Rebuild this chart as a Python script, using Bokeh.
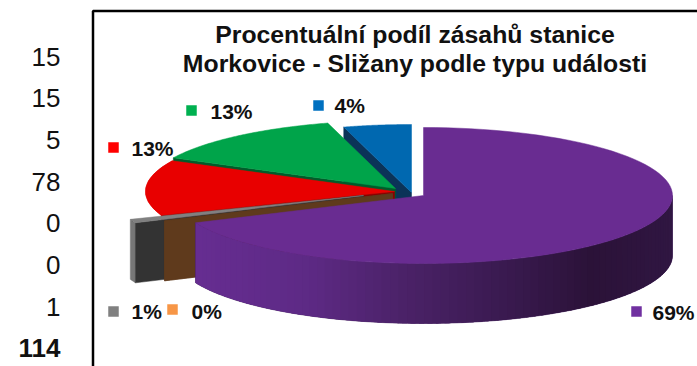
import math
from bokeh.plotting import figure
from bokeh.embed import file_html
from bokeh.resources import INLINE
from bokeh.core.properties import value as fval

# data
categories = ["a", "b", "c", "d", "e", "f", "g"]   # unnamed in the picture
values = [15, 15, 5, 78, 0, 0, 1]
total = 114
percent_labels = ["13%", "13%", "4%", "69%", None, "0%", "1%"]
title_lines = ["Procentuální podíl zásahů stanice", "Morkovice - Sližany podle typu události"]

# layout / style
W, H = 697, 366
RX, RY, DEPTH = 249, 68, 60
order = [3, 4, 5, 6, 0, 1, 2]     # clockwise from 12 o'clock
apex = {3: (423, 195), 4: (392, 193), 5: (392, 193), 6: (363, 195), 0: (394, 191), 1: (395, 188), 2: (411, 192)}
top_col = {0: "#e80000", 1: "#00a44a", 2: "#0068b0", 3: "#692c91", 4: "#f79646", 5: "#f79646", 6: "#808080"}
cut_col = {0: "#8a0000", 1: "#005c2a", 2: "#0b3358", 4: "#5f3a1c", 5: "#5f3a1c", 6: "#333333"}
wall_col = {0: "#e00000", 6: "#777777"}
marker_col = {0: "#ff0000", 1: "#00b050", 2: "#0070c0", 3: "#7030a0", 5: "#f79646", 6: "#808080"}
label_pos = {1: (191, 110, 210, 111), 0: (113, 147, 131, 148), 2: (318, 105, 334, 105),
             6: (113, 311, 131, 311), 5: (172, 309, 191, 311), 3: (636, 311, 652, 312)}
wall_stops = [(195, (0x66, 0x2d, 0x91)), (300, (0x5e, 0x2a, 0x86)), (400, (0x4b, 0x22, 0x68)),
              (500, (0x3a, 0x1a, 0x50)), (590, (0x2b, 0x12, 0x38)), (672, (0x30, 0x16, 0x42))]

p = figure(width=W, height=H, x_range=(0, W), y_range=(H, 0), toolbar_location=None,
           output_backend="svg", min_border=0, outline_line_color=None)
p.axis.visible = False
p.grid.visible = False
p.background_fill_color = "white"
p.border_fill_color = "white"


def pt(a, theta):
    t = math.radians(theta)
    return a[0] + RX * math.sin(t), a[1] - RY * math.cos(t)


def arc(a, t0, t1, n=90):
    return [pt(a, t0 + (t1 - t0) * i / n) for i in range(n + 1)]


def poly(points, color, lw=0.5):
    p.patch([q[0] for q in points], [q[1] for q in points], fill_color=color, line_color=color, line_width=lw)


def wall(a, t0, t1, color, lw=0.5, n=8):
    top = arc(a, t0, t1, n)
    poly(top + [(x, y + DEPTH) for x, y in reversed(top)], color, lw)


def cut(a, t, color):
    o = pt(a, t)
    poly([o, a, (a[0], a[1] + DEPTH), (o[0], o[1] + DEPTH)], color)


def top_face(a, t0, t1, color):
    poly([a] + arc(a, t0, t1), color)


def shade(x):
    for (x0, c0), (x1, c1) in zip(wall_stops, wall_stops[1:]):
        if x <= x1:
            f = max(0, (x - x0) / (x1 - x0))
            return "#%02x%02x%02x" % tuple(round(c0[k] + (c1[k] - c0[k]) * f) for k in range(3))
    return "#%02x%02x%02x" % wall_stops[-1][1]


# slice angles from the values
angles = {}
t = 0.0
for i in order:
    d = values[i] / total * 360
    angles[i] = (t, t + d)
    t += d

# back to front
for i in [2, 1, 0, 6, 5, 4]:
    t0, t1 = angles[i]
    a = apex[i]
    if i in wall_col:
        wall(a, t0, t1, wall_col[i])
    cut(a, t0, cut_col[i])
    if values[i] > 0:
        top_face(a, t0, t1, top_col[i])

# front slice: wall in shaded strips over a solid base, then the top
a = apex[3]
t0, t1 = angles[3]
wall(a, 90, t1, "#401c5a", 0.5, 90)
n = 80
for k in range(n):
    s0 = 90 + (t1 - 90) * k / n
    s1 = 90 + (t1 - 90) * (k + 1.6) / n if k < n - 1 else t1
    wall(a, s0, s1, shade(pt(a, (s0 + s1) / 2)[0]), 0)
top_face(a, t0, t1, top_col[3])

# frame
p.line([92.5, 92.5, W], [H, 10.5, 10.5], line_color="black", line_width=2.5)

# labels
for i, (mx, my, tx, ty) in label_pos.items():
    p.rect([mx], [my], width=10.5, height=10.5, fill_color=marker_col[i], line_color=None)
    p.text([tx], [ty], text=[percent_labels[i]], text_font=fval("Liberation Sans"),
           text_font_style="bold", text_font_size="21px", text_color="#111111",
           text_align="left", text_baseline="middle")

# left column
rows = values + [total]
for k, v in enumerate(rows):
    p.text([60], [56 + k * 41.7], text=[str(v)], text_font=fval("Liberation Sans"),
           text_font_style="bold" if k == len(rows) - 1 else "normal", text_font_size="26px",
           text_color="#111111", text_align="right", text_baseline="middle")

# title
for k, line in enumerate(title_lines):
    p.text([414.5], [34 + k * 29], text=[line], text_font=fval("Liberation Sans"), text_font_style="bold",
           text_font_size="24.8px", text_color="#111111", text_align="center", text_baseline="middle")

open("out.html", "w").write(file_html(p, INLINE))
